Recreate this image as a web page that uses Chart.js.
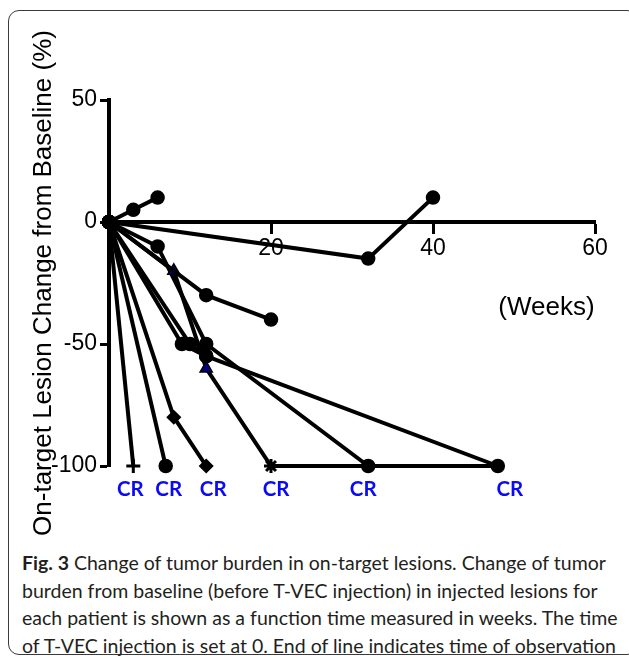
<!DOCTYPE html>
<html>
<head>
<meta charset="utf-8">
<script src="https://cdn.jsdelivr.net/npm/chart.js@4/dist/chart.umd.min.js"></script>
<style>
  html, body { margin:0; padding:0; background:#fff; }
  body { width:629px; height:659px; position:relative; overflow:hidden; }
  #frame { position:absolute; left:8px; top:10px; width:630px; height:645px; border:1.5px solid #3a3a3a; border-radius:11px; box-sizing:border-box; }
  #wrap { position:absolute; left:0; top:0; width:629px; height:545px; }
  #caption { position:absolute; left:22px; top:549px; font-family:"Lato","Open Sans",sans-serif; font-size:19.5px; line-height:27.6px; color:#231f20; white-space:nowrap; }
  #caption b { font-weight:700; }
</style>
</head>
<body>
<div id="frame"></div>
<div id="wrap"><canvas id="c"></canvas></div>
<div id="caption">
<div class="ln"><b>Fig. 3</b> Change of tumor burden in on-target lesions. Change of tumor</div>
<div class="ln">burden from baseline (before T-VEC injection) in injected lesions for</div>
<div class="ln">each patient is shown as a function time measured in weeks. The time</div>
<div class="ln">of T-VEC injection is set at 0. End of line indicates time of observation</div>
</div>
<script>
// ---- data (weeks, % change) ----
const weeksA = [0, 3, 6];        const changeA = [0, 5, 10];
const weeksB = [0, 32, 40];      const changeB = [0, -15, 10];
const weeksC = [0, 12, 20];      const changeC = [0, -30, -40];
const weeksD = [0, 8, 12, 20, 48]; const changeD = [0, -20, -60, -100, -100];
const weeksE = [0, 6, 12, 32];   const changeE = [0, -10, -50, -100];
const weeksF = [0, 9, 12, 48];   const changeF = [0, -50, -55, -100];
const weeksG = [0, 10, 12];      const changeG = [0, -50, -55];
const weeksH = [0, 3];           const changeH = [0, -100];
const weeksI = [0, 7];           const changeI = [0, -100];
const weeksJ = [0, 8, 12];       const changeJ = [0, -80, -100];
const xTicks = [20, 40, 60];
const yTicks = [-100, -50, 0, 50];
const crWeeks = [3, 7, 12, 20, 32, 48];
const crLabel = 'CR';
const xUnit = '(Weeks)';
const yTitle = 'On-target Lesion Change from Baseline (%)';

function pts(xs, ys) { return xs.map((x, i) => ({ x: x, y: ys[i] })); }
function ds(xs, ys, style, fill) {
  return {
    data: pts(xs, ys),
    showLine: true,
    borderColor: '#000',
    borderWidth: 4,
    pointStyle: style,
    pointRadius: 6.5,
    pointBackgroundColor: fill || '#000',
    pointBorderColor: '#000',
    pointBorderWidth: 1.5,
    clip: false
  };
}
const datasets = [
  ds(weeksA, changeA, 'circle'),
  ds(weeksB, changeB, 'circle'),
  ds(weeksC, changeC, 'circle'),
  Object.assign(ds(weeksD, changeD, ['circle', 'triangle', 'triangle', 'star', 'circle']),
    { pointBackgroundColor: ['#000', '#000080', '#000080', '#000', '#000'], pointRadius: [6.5, 7, 7, 7, 0], pointBorderWidth: [1.5, 1.5, 1.5, 3, 0] }),
  ds(weeksE, changeE, 'circle'),
  ds(weeksF, changeF, 'circle'),
  ds(weeksG, changeG, 'circle'),
  Object.assign(ds(weeksH, changeH, ['circle', 'cross']), { pointBorderWidth: [1.5, 3], pointRadius: [6.5, 7] }),
  ds(weeksI, changeI, 'circle'),
  ds(weeksJ, changeJ, ['circle', 'rectRot', 'rectRot'])
];

const labelsPlugin = {
  id: 'labels',
  afterDraw(chart) {
    const ctx = chart.ctx, xs = chart.scales.x, ys = chart.scales.y;
    const nudge = [-3, 3, 7, 5, -5, 12]; // small pixel offsets of the CR labels
    ctx.save();
    ctx.fillStyle = '#0a0af5';
    ctx.font = 'bold 20.5px Lato, "Open Sans", sans-serif';
    ctx.textAlign = 'center';
    ctx.textBaseline = 'middle';
    const yy = ys.getPixelForValue(-100) + 23;
    crWeeks.forEach((w, i) => ctx.fillText(crLabel, xs.getPixelForValue(w) + nudge[i], yy));
    ctx.fillStyle = '#000';
    ctx.font = '26px "Liberation Sans", Arial, sans-serif';
    ctx.fillText(xUnit, xs.getPixelForValue(54), ys.getPixelForValue(-35));
    ctx.restore();
  }
};

new Chart(document.getElementById('c'), {
  type: 'scatter',
  data: { datasets: datasets },
  plugins: [labelsPlugin],
  options: {
    responsive: true,
    maintainAspectRatio: false,
    animation: false,
    layout: { padding: { left: 9, right: 34, top: 100, bottom: 79 } },
    plugins: { legend: { display: false }, tooltip: { enabled: false } },
    scales: {
      x: {
        type: 'linear',
        position: { y: 0 },
        min: 0, max: 60,
        afterBuildTicks: s => { s.ticks = [0].concat(xTicks).map(v => ({ value: v })); },
        ticks: {
          callback: v => (v === 0 ? '' : String(v)),
          color: '#000',
          font: { family: '"Liberation Sans", Arial, sans-serif', size: 23 },
          padding: 3,
          maxRotation: 0
        },
        grid: { drawOnChartArea: false, tickLength: 10, tickWidth: 3, tickColor: '#000' },
        border: { display: true, color: '#000', width: 4 }
      },
      y: {
        type: 'linear',
        position: 'left',
        min: -100, max: 50,
        afterBuildTicks: s => { s.ticks = yTicks.map(v => ({ value: v })); },
        afterFit: s => { s.width = 100; },
        ticks: {
          color: '#000',
          font: { family: '"Liberation Sans", Arial, sans-serif', size: 23 },
          padding: 3
        },
        grid: { drawOnChartArea: false, tickLength: 9, tickWidth: 3, tickColor: '#000' },
        border: { display: true, color: '#000', width: 4 },
        title: {
          display: true,
          text: yTitle,
          color: '#000',
          font: { family: '"Liberation Sans", Arial, sans-serif', size: 26 },
          padding: { top: 19, bottom: 0 }
        }
      }
    }
  }
});
</script>
</body>
</html>
